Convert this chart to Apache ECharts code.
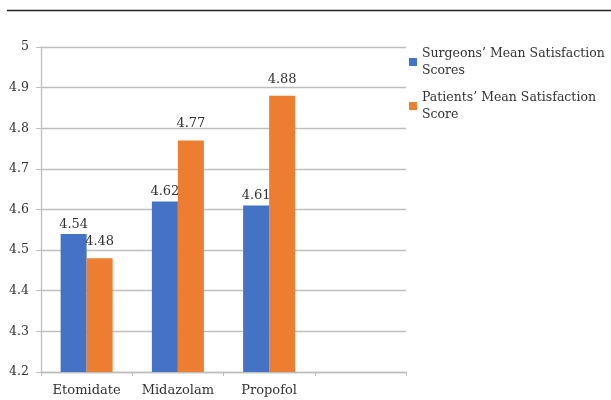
<!DOCTYPE html>
<html><head><meta charset="utf-8">
<script src="https://cdn.jsdelivr.net/npm/echarts@6/dist/echarts.min.js"></script>
<style>html,body{margin:0;padding:0;background:#fff}#c{width:611px;height:400px}</style>
</head><body><div id="c"></div>
<script>
const categories = ['Etomidate', 'Midazolam', 'Propofol', ''];
const surgeonsScores = [4.54, 4.62, 4.61, null];
const patientsScores = [4.48, 4.77, 4.88, null];
const yTicks = { min: 4.2, max: 5, interval: 0.1 };
const seriesNames = ["Surgeons’ Mean Satisfaction Scores", "Patients’ Mean Satisfaction Score"];

const FONT = 'DejaVu Serif';
const chart = echarts.init(document.getElementById('c'), null, { renderer: 'canvas' });
chart.setOption({
  animation: false,
  textStyle: { fontFamily: FONT },
  graphic: [{ type: 'line', shape: { x1: 7, y1: 10.5, x2: 611, y2: 10.5 }, style: { stroke: '#222', lineWidth: 1.3 } }],
  grid: { left: 41, right: 205, top: 47, bottom: 28 },
  legend: {
    orient: 'vertical', left: 404, top: 40, itemWidth: 8, itemHeight: 8, itemGap: 10,
    icon: 'rect',
    textStyle: { fontFamily: FONT, fontSize: 12.5, color: '#333', lineHeight: 17 },
    formatter: n => n.replace(' Satisfaction ', ' Satisfaction\n')
  },
  xAxis: {
    type: 'category', data: categories,
    axisLine: { lineStyle: { color: '#bfbfbf', width: 1.3 } },
    axisTick: { show: true, length: 4, alignWithLabel: false, interval: 0, lineStyle: { color: '#bfbfbf' } },
    axisLabel: { fontFamily: FONT, fontSize: 13, color: '#333', margin: 12, interval: 0, hideOverlap: false }
  },
  yAxis: {
    type: 'value', min: yTicks.min, max: yTicks.max, interval: yTicks.interval,
    axisLine: { show: true, lineStyle: { color: '#bfbfbf', width: 1.3 } },
    axisTick: { show: true, length: 5, lineStyle: { color: '#bfbfbf' } },
    splitLine: { lineStyle: { color: '#bfbfbf', width: 1.3 } },
    axisLabel: { fontFamily: FONT, fontSize: 12.5, color: '#333', margin: 12,
      formatter: v => (Math.round(v * 10) / 10).toString() }
  },
  series: [
    { name: seriesNames[0], type: 'bar', data: surgeonsScores, barWidth: 26, barGap: '0%',
      itemStyle: { color: '#4472C4' },
      label: { show: true, position: 'top', distance: 3, fontFamily: FONT, fontSize: 13, color: '#333' } },
    { name: seriesNames[1], type: 'bar', data: patientsScores, barWidth: 26,
      itemStyle: { color: '#ED7D31' },
      label: { show: true, position: 'top', distance: 10, fontFamily: FONT, fontSize: 13, color: '#333' } }
  ]
});
</script></body></html>
